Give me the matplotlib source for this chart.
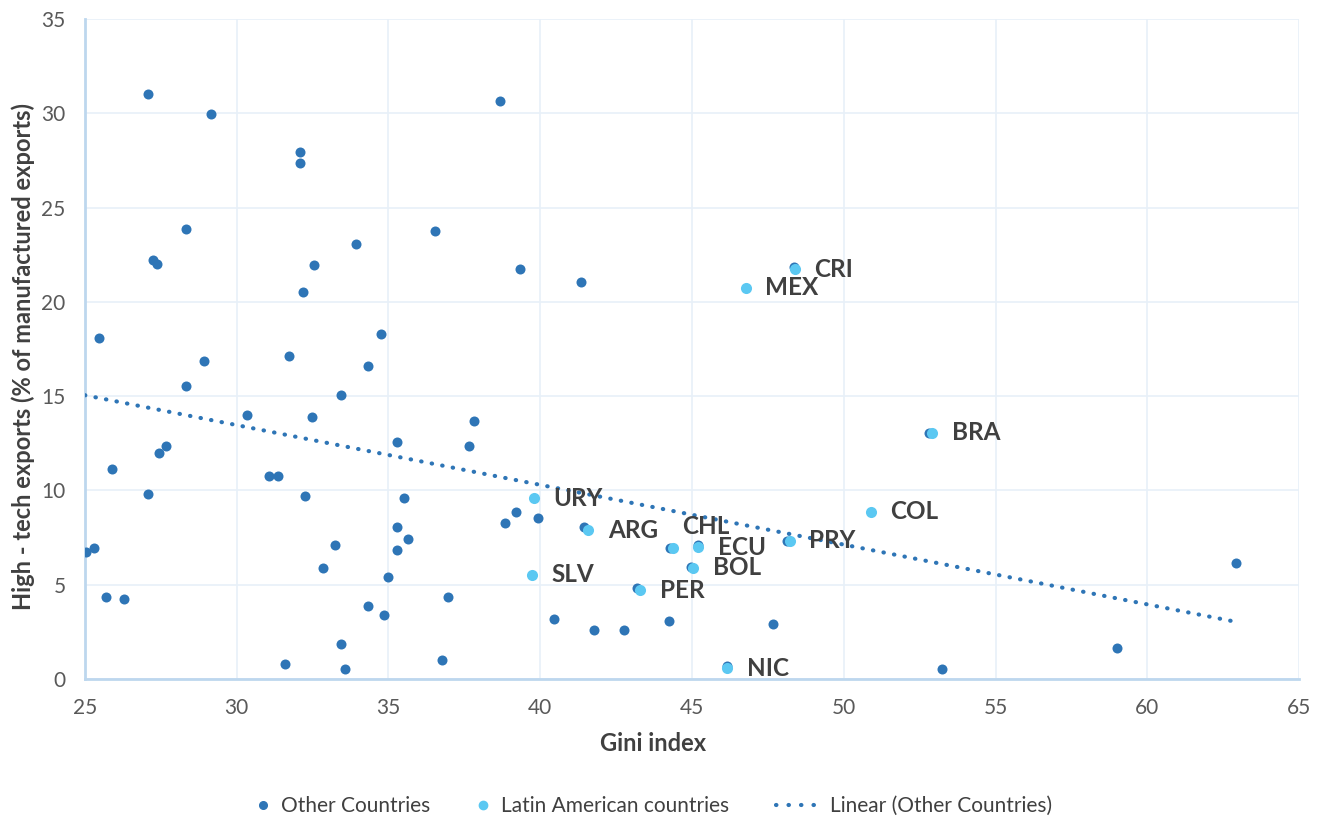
import matplotlib.pyplot as plt
from matplotlib.lines import Line2D

plt.rcParams['font.family'] = ['Lato', 'DejaVu Sans']

# Other countries (Gini index, high-tech exports %)
other_x = [27.08, 29.15, 32.08, 32.08, 38.67, 28.33, 27.24, 27.37, 32.55, 33.93,
           36.53, 39.33, 41.34, 32.18, 25.46, 34.75, 31.72, 28.92, 34.33, 28.33,
           33.43, 30.34, 32.48, 37.82, 27.67, 27.44, 35.28, 37.65, 25.89, 31.06,
           31.36, 27.08, 32.25, 35.51, 39.93, 39.20, 38.84, 35.28, 35.64, 33.24,
           35.28, 25.02, 25.30, 32.84, 34.98, 25.69, 26.28, 36.96, 34.33, 34.85,
           33.43, 31.59, 33.57, 36.76, 40.45, 41.77, 42.76, 44.24, 47.67, 53.24,
           59.00, 62.93,
           48.36, 52.81, 48.12, 41.44, 44.29, 45.19, 44.96, 43.18, 46.14]
other_y = [31.02, 29.96, 27.95, 27.36, 30.65, 23.86, 22.22, 22.01, 21.95, 23.07,
           23.76, 21.74, 21.05, 20.52, 18.08, 18.30, 17.13, 16.86, 16.60, 15.54,
           15.06, 14.00, 13.89, 13.68, 12.36, 11.98, 12.57, 12.36, 11.14, 10.77,
           10.77, 9.81, 9.70, 9.60, 8.54, 8.86, 8.27, 8.06, 7.42, 7.11,
           6.84, 6.73, 6.95, 5.89, 5.41, 4.35, 4.24, 4.35, 3.87, 3.39,
           1.86, 0.80, 0.53, 1.00, 3.18, 2.60, 2.60, 3.08, 2.92, 0.53,
           1.64, 6.15,
           21.85, 13.05, 7.32, 8.04, 6.96, 7.09, 5.93, 4.84, 0.69]

# Latin American countries
latam_codes = ['CRI', 'MEX', 'BRA', 'COL', 'PRY', 'URY', 'ARG', 'CHL', 'ECU',
               'BOL', 'SLV', 'PER', 'NIC']
latam_x = [48.39, 46.77, 52.91, 50.90, 48.23, 39.79, 41.58, 44.36, 45.21,
           45.04, 39.72, 43.29, 46.16]
latam_y = [21.74, 20.75, 13.05, 8.87, 7.33, 9.58, 7.90, 6.96, 6.98,
           5.89, 5.53, 4.72, 0.56]

# linear trend (Other Countries), end points
trend_x = [25.0, 62.9]
trend_y = [15.05, 3.04]

dark = '#2E75B6'
light = '#5BC8F2'
txt = '#404040'

fig = plt.figure(figsize=(13.21, 8.19), dpi=100)
ax = fig.add_axes([0.0643, 0.1709, 0.9191, 0.8059])

ax.scatter(other_x, other_y, s=52, color=dark, linewidths=0, zorder=3)
ax.scatter(latam_x, latam_y, s=64, color=light, linewidths=0, zorder=4)
ax.plot(trend_x, trend_y, color=dark, linewidth=3.0,
        linestyle=(0, (0.1, 2.47)), dash_capstyle='round', zorder=5)

# label offsets in points (CHL sits above its point)
for code, x, y in zip(latam_codes, latam_x, latam_y):
    dx, dy = 14, 0
    if code == 'CHL':
        dx, dy = 7, 15
    ax.annotate(code, (x, y), xytext=(dx, dy), textcoords='offset points',
                ha='left', va='center', fontsize=17.5, fontweight='bold',
                color=txt, zorder=6)

ax.set_xlim(25, 65)
ax.set_ylim(0, 35)
ax.set_xticks(range(25, 66, 5))
ax.set_yticks(range(0, 36, 5))
ax.grid(True, color='#E8F0F8', linewidth=1.2, zorder=0)
ax.set_axisbelow(True)
for s in ['top', 'right']:
    ax.spines[s].set_visible(False)
for s in ['left', 'bottom']:
    ax.spines[s].set_color('#BDD7EE')
    ax.spines[s].set_linewidth(2)
ax.tick_params(length=0, labelsize=15, colors='#595959', pad=14)

ax.set_xlabel('Gini index', fontsize=17, fontweight='bold', color=txt, va='center')
ax.xaxis.set_label_coords(0.468, -0.097)
ax.set_ylabel('High - tech exports (% of manufactured exports)', fontsize=17,
              fontweight='bold', color=txt, va='center')
ax.yaxis.set_label_coords(-0.051, 0.488)

# legend: one entry each so the spacing can follow the original
entries = [
    (Line2D([0], [0], marker='o', linestyle='None', color=dark, markersize=5.5),
     'Other Countries', 0.1945, 0.6, 0.56),
    (Line2D([0], [0], marker='o', linestyle='None', color=light, markersize=6),
     'Latin American countries', 0.3611, 0.6, 0.56),
    (Line2D([0], [0], color=dark, linewidth=3.0, linestyle=(0, (0.1, 2.9)),
            dash_capstyle='round'),
     'Linear (Other Countries)', 0.5874, 1.83, 0.77),
]
for h, lab, x0, hl, hp in entries:
    fig.legend([h], [lab], loc='center left', bbox_to_anchor=(x0, 0.0159),
               frameon=False, fontsize=15, labelcolor=txt, borderpad=0,
               borderaxespad=0, handlelength=hl, handletextpad=hp)

fig.savefig('out.png', dpi=100)
